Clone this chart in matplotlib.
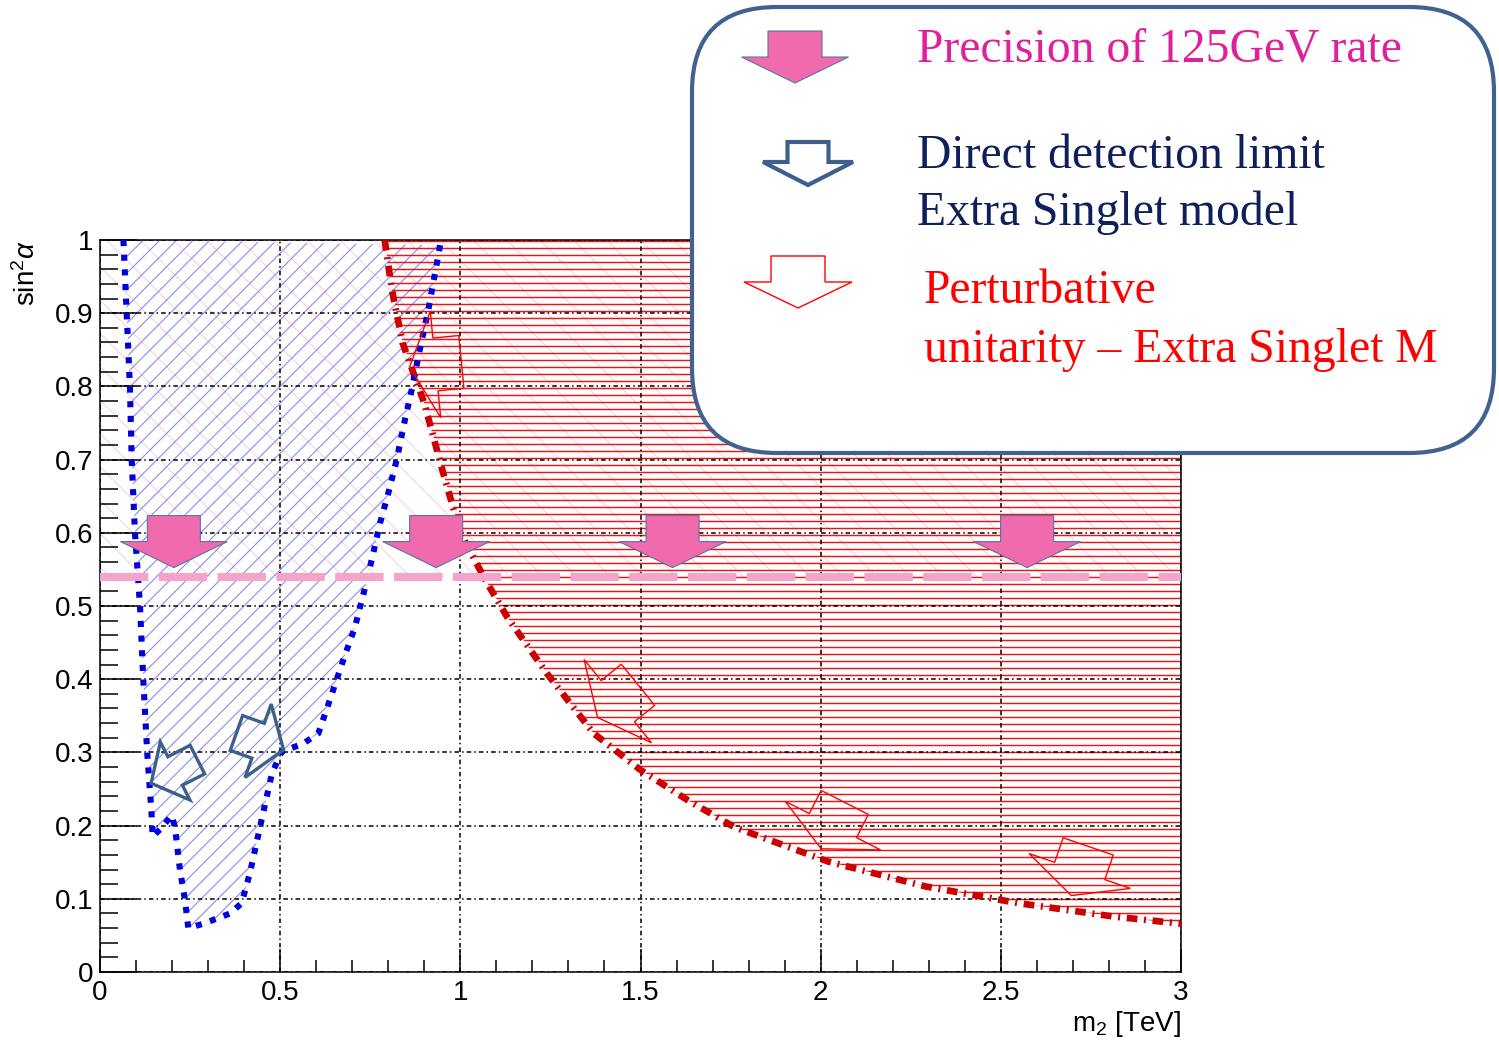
import numpy as np
import matplotlib.pyplot as plt
from matplotlib.patches import Polygon, Rectangle, FancyBboxPatch
from matplotlib.transforms import IdentityTransform
from matplotlib.ticker import MultipleLocator, FormatStrFormatter

plt.rcParams['font.family'] = ['Liberation Sans', 'DejaVu Sans']
plt.rcParams['mathtext.fontset'] = 'custom'
plt.rcParams['mathtext.rm'] = 'Liberation Sans'
plt.rcParams['mathtext.it'] = 'Liberation Sans:italic'
plt.rcParams['hatch.linewidth'] = 0.8

W, H = 1499, 1041

# direct detection limit (blue dotted contour)
dd_m2 = [0.065, 0.074, 0.083, 0.088, 0.097, 0.106, 0.111, 0.120, 0.131, 0.143, 0.146,
         0.167, 0.199, 0.208, 0.222, 0.236, 0.245, 0.287, 0.361, 0.393, 0.416, 0.444,
         0.477, 0.504, 0.564, 0.606, 0.638, 0.675, 0.708, 0.736, 0.754, 0.777, 0.800,
         0.823, 0.846, 0.865, 0.883, 0.911, 0.944]
dd_s2 = [1.000, 0.900, 0.800, 0.700, 0.600, 0.536, 0.500, 0.400, 0.300, 0.217, 0.185,
         0.195, 0.214, 0.198, 0.139, 0.098, 0.060, 0.066, 0.080, 0.094, 0.135, 0.198,
         0.271, 0.301, 0.312, 0.326, 0.372, 0.426, 0.472, 0.526, 0.563, 0.613, 0.654,
         0.699, 0.754, 0.795, 0.840, 0.904, 0.993]

# perturbative unitarity (red dash-dot curve)
pu_m2 = [0.79, 0.81, 0.84, 0.90, 0.95, 1.00, 1.07, 1.13, 1.24, 1.37, 1.50, 1.63,
         1.76, 2.02, 2.29, 2.55, 2.81, 3.00]
pu_s2 = [1.000, 0.932, 0.859, 0.777, 0.686, 0.600, 0.535, 0.485, 0.408, 0.326,
         0.276, 0.235, 0.198, 0.151, 0.117, 0.094, 0.076, 0.066]

# precision of the 125 GeV rate
rate_limit = 0.54

# annotation arrows (data position, direction in degrees)
rate_arrow_m2 = [0.205, 0.933, 1.589, 2.573]
rate_arrow_s2 = 0.588
dd_arrows = [(0.206, 0.274, 207, 25, 27, 32, 65), (0.444, 0.315, -19.6, 23, 27, 37, 78)]
pu_arrows = [(0.931, 0.830, 185.6), (1.437, 0.370, 219), (2.034, 0.200, 243), (2.719, 0.138, 251)]

fig = plt.figure(figsize=(W / 100, H / 100), dpi=100)
ax = fig.add_axes([100 / W, 69 / H, 1081 / W, 732 / H])
ax.set_xlim(0, 3)
ax.set_ylim(0, 1)


def block_arrow(cx, cy, ang, bl, hl, bw, hw, **kw):
    # cx, cy in display pixels, sizes in pixels
    L = bl + hl
    b = -L / 2 + bl
    loc = np.array([(L / 2, 0), (b, hw / 2), (b, bw / 2), (-L / 2, bw / 2),
                    (-L / 2, -bw / 2), (b, -bw / 2), (b, -hw / 2)])
    t = np.radians(ang)
    rot = np.array([[np.cos(t), -np.sin(t)], [np.sin(t), np.cos(t)]])
    verts = loc @ rot.T + [cx, cy]
    p = Polygon(verts, closed=True, transform=IdentityTransform(), **kw)
    fig.add_artist(p)
    return p


def data_px(x, y):
    return ax.transData.transform((x, y))


def top_px(x, y):
    return x, H - y


# hatched regions
ax.add_patch(Rectangle((0, rate_limit), 3, 1 - rate_limit, fill=False, hatch='\\',
                       edgecolor='#fad0e2', lw=0, zorder=0.5))
ax.add_patch(Polygon(np.column_stack([dd_m2, dd_s2]), closed=True, fill=False,
                     hatch='//', edgecolor='#8a8aee', lw=0, zorder=0.6))
red_region = Polygon(np.column_stack([pu_m2 + [3.0], pu_s2 + [1.0]]), closed=True,
                     facecolor='none', edgecolor='none')
ax.add_patch(red_region)
hy = np.arange(0.004, 1.0, 7.0 / 732)
lc = ax.hlines(hy, 0, 3, color='#e81818', lw=1.05, zorder=1.2)
lc.set_clip_path(red_region)

# grid and axes
ax.set_axisbelow('line')
ax.grid(True, which='major', color='black', lw=1.1, ls=(0, (3, 2, 1, 2)))
ax.xaxis.set_major_locator(MultipleLocator(0.5))
ax.xaxis.set_minor_locator(MultipleLocator(0.1))
ax.yaxis.set_major_locator(MultipleLocator(0.1))
ax.yaxis.set_minor_locator(MultipleLocator(0.02))
ax.xaxis.set_major_formatter(FormatStrFormatter('%g'))
ax.yaxis.set_major_formatter(FormatStrFormatter('%g'))
ax.tick_params(axis='x', which='major', direction='in', length=16.5, width=1.1,
               labelsize=20, pad=6, top=False)
ax.tick_params(axis='x', which='minor', direction='in', length=8.6, width=1.1, top=False)
ax.tick_params(axis='y', which='major', direction='in', length=26.6, width=1.1,
               labelsize=20, pad=5, right=False)
ax.tick_params(axis='y', which='minor', direction='in', length=13, width=1.1, right=False)
for s in ax.spines.values():
    s.set_linewidth(1.1)

ax.set_xlabel('m$_2$ [TeV]', fontsize=20, loc='right')
ax.xaxis.set_label_coords(1.0, -0.05)
ax.set_ylabel(r'sin$^2\alpha$', fontsize=20, loc='top')
ax.yaxis.set_label_coords(-0.055, 1.0)

# curves
ax.plot(pu_m2, pu_s2, color='#cc0000', lw=4.8, ls=(0, (1.6, 1.0, 0.3, 1.0)),
        dash_capstyle='butt', zorder=3)
ax.plot(dd_m2, dd_s2, color='#0000dd', lw=4.4, ls=(0, (1, 1.4)),
        dash_capstyle='butt', zorder=3)
ax.axhline(rate_limit, color='#f5a3cb', lw=5.8, ls=(0, (6, 1.3)), zorder=3.5)

# arrows inside the plot
for xm in rate_arrow_m2:
    cx, cy = data_px(xm, rate_arrow_s2)
    block_arrow(cx, cy, 270, 26, 26, 53, 107, facecolor='#f06aae',
                edgecolor='#5a74a0', lw=0.8, zorder=4)
for xm, ys, ang, bl, hl, bw, hw in dd_arrows:
    cx, cy = data_px(xm, ys)
    block_arrow(cx, cy, ang, bl, hl, bw, hw, facecolor='none',
                edgecolor='#3d5f8c', lw=2.4, zorder=4)
for xm, ys, ang in pu_arrows:
    cx, cy = data_px(xm, ys)
    block_arrow(cx, cy, ang, 26, 26, 53, 107, facecolor='none',
                edgecolor='#ff0000', lw=1.0, zorder=4)

# legend box
fig.add_artist(FancyBboxPatch((692, H - 453), 802, 446,
                              boxstyle='round,pad=0,rounding_size=85',
                              transform=IdentityTransform(), facecolor='white',
                              edgecolor='#41628f', lw=3, zorder=10))
block_arrow(*top_px(795, 57), 270, 26, 26, 54, 107, facecolor='#f06aae',
            edgecolor='#5a74a0', lw=0.8, zorder=11)
block_arrow(*top_px(808, 163.5), 270, 20, 23, 41, 90, facecolor='white',
            edgecolor='#3d5f8c', lw=3, zorder=11)
block_arrow(*top_px(798, 282), 270, 26, 26, 54, 108, facecolor='white',
            edgecolor='#ff0000', lw=1.0, zorder=11)

legend_texts = [
    (917, 62, 'Precision of 125GeV rate', '#e0209a'),
    (917, 168, 'Direct detection limit', '#0f1f5c'),
    (917, 225, 'Extra Singlet model', '#0f1f5c'),
    (924, 303, 'Perturbative', '#ff0000'),
    (924, 362, 'unitarity \u2013 Extra Singlet M', '#ff0000'),
]
for x, y, s, c in legend_texts:
    fig.text(x / W, 1 - y / H, s, color=c, fontsize=34.3, family='Liberation Serif',
             va='baseline', ha='left', zorder=12)

fig.savefig('out.png', dpi=100)
